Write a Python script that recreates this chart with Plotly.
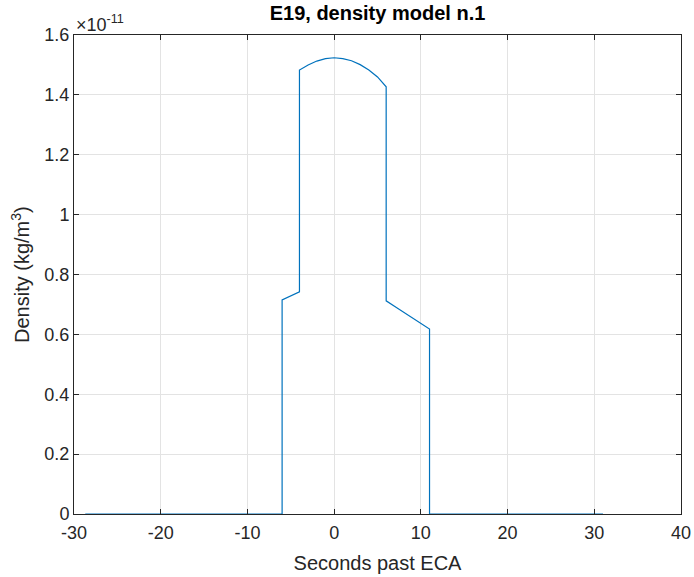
import plotly.graph_objects as go

# Data (density in units of 1e-11 kg/m^3)
seconds = [-28.7, -6.0, -6.0, -4.0, -4.0, -3.0, -2.0, -1.0, 0.0, 1.0, 2.0, 3.0, 4.0, 5.0, 6.0,
           6.0, 7.0, 8.0, 9.0, 10.0, 11.0, 11.0, 31.0]
density = [0.0, 0.0, 0.715, 0.742, 1.483, 1.500, 1.513, 1.521, 1.524, 1.521, 1.514, 1.501, 1.483, 1.460, 1.427,
           0.712, 0.693, 0.674, 0.656, 0.637, 0.618, 0.0, 0.0]

ytick_vals = [0, 0.2, 0.4, 0.6, 0.8, 1.0, 1.2, 1.4, 1.6]
ytick_text = ["0", "0.2", "0.4", "0.6", "0.8", "1", "1.2", "1.4", "1.6"]
xtick_vals = [-30, -20, -10, 0, 10, 20, 30, 40]
xtick_text = ["-30", "-20", "-10", "0", "10", "20", "30", "40"]

font = "Liberation Sans, Arial, sans-serif"

fig = go.Figure()
fig.add_trace(go.Scatter(x=seconds, y=density, mode="lines",
                         line=dict(color="#0072BD", width=1.2), showlegend=False))

axis_common = dict(showline=True, linecolor="#262626", linewidth=1, mirror="ticks",
                   ticks="inside", ticklen=5, tickcolor="#262626",
                   showgrid=True, gridcolor="#e3e3e3", gridwidth=1, zeroline=False,
                   automargin=False,
                   tickfont=dict(family=font, size=18, color="#262626"))

fig.update_xaxes(range=[-30, 40], tickvals=xtick_vals, ticktext=xtick_text, ticklabelstandoff=2,
                 title=dict(text="Seconds past ECA", font=dict(family=font, size=20, color="#262626"), standoff=14),
                 **axis_common)
fig.update_yaxes(range=[0, 1.6], tickvals=ytick_vals, ticktext=ytick_text,
                 **axis_common)

fig.update_layout(
    width=694, height=577,
    margin=dict(l=74, r=13, t=35, b=63),
    paper_bgcolor="white", plot_bgcolor="white",
    title=dict(text="<b>E19, density model n.1</b>", x=0.5 * (74 + 681) / 694, xanchor="center",
               y=1 - 13 / 577, yanchor="middle",
               font=dict(family=font, size=20, color="black")),
    font=dict(family=font),
)

fig.add_annotation(text="Density (kg/m<sup>3</sup>)", xref="paper", yref="paper", x=0.0, y=0.5,
                   xanchor="right", yanchor="middle", textangle=-90, showarrow=False, xshift=-39,
                   font=dict(family=font, size=20, color="#262626"))

fig.add_annotation(text="×10<sup>-11</sup>", xref="paper", yref="paper", x=0.0, y=1.0,
                   xanchor="left", yanchor="bottom", showarrow=False, xshift=0, yshift=-2,
                   font=dict(family=font, size=18, color="#262626"))

fig.write_html("out.html")
